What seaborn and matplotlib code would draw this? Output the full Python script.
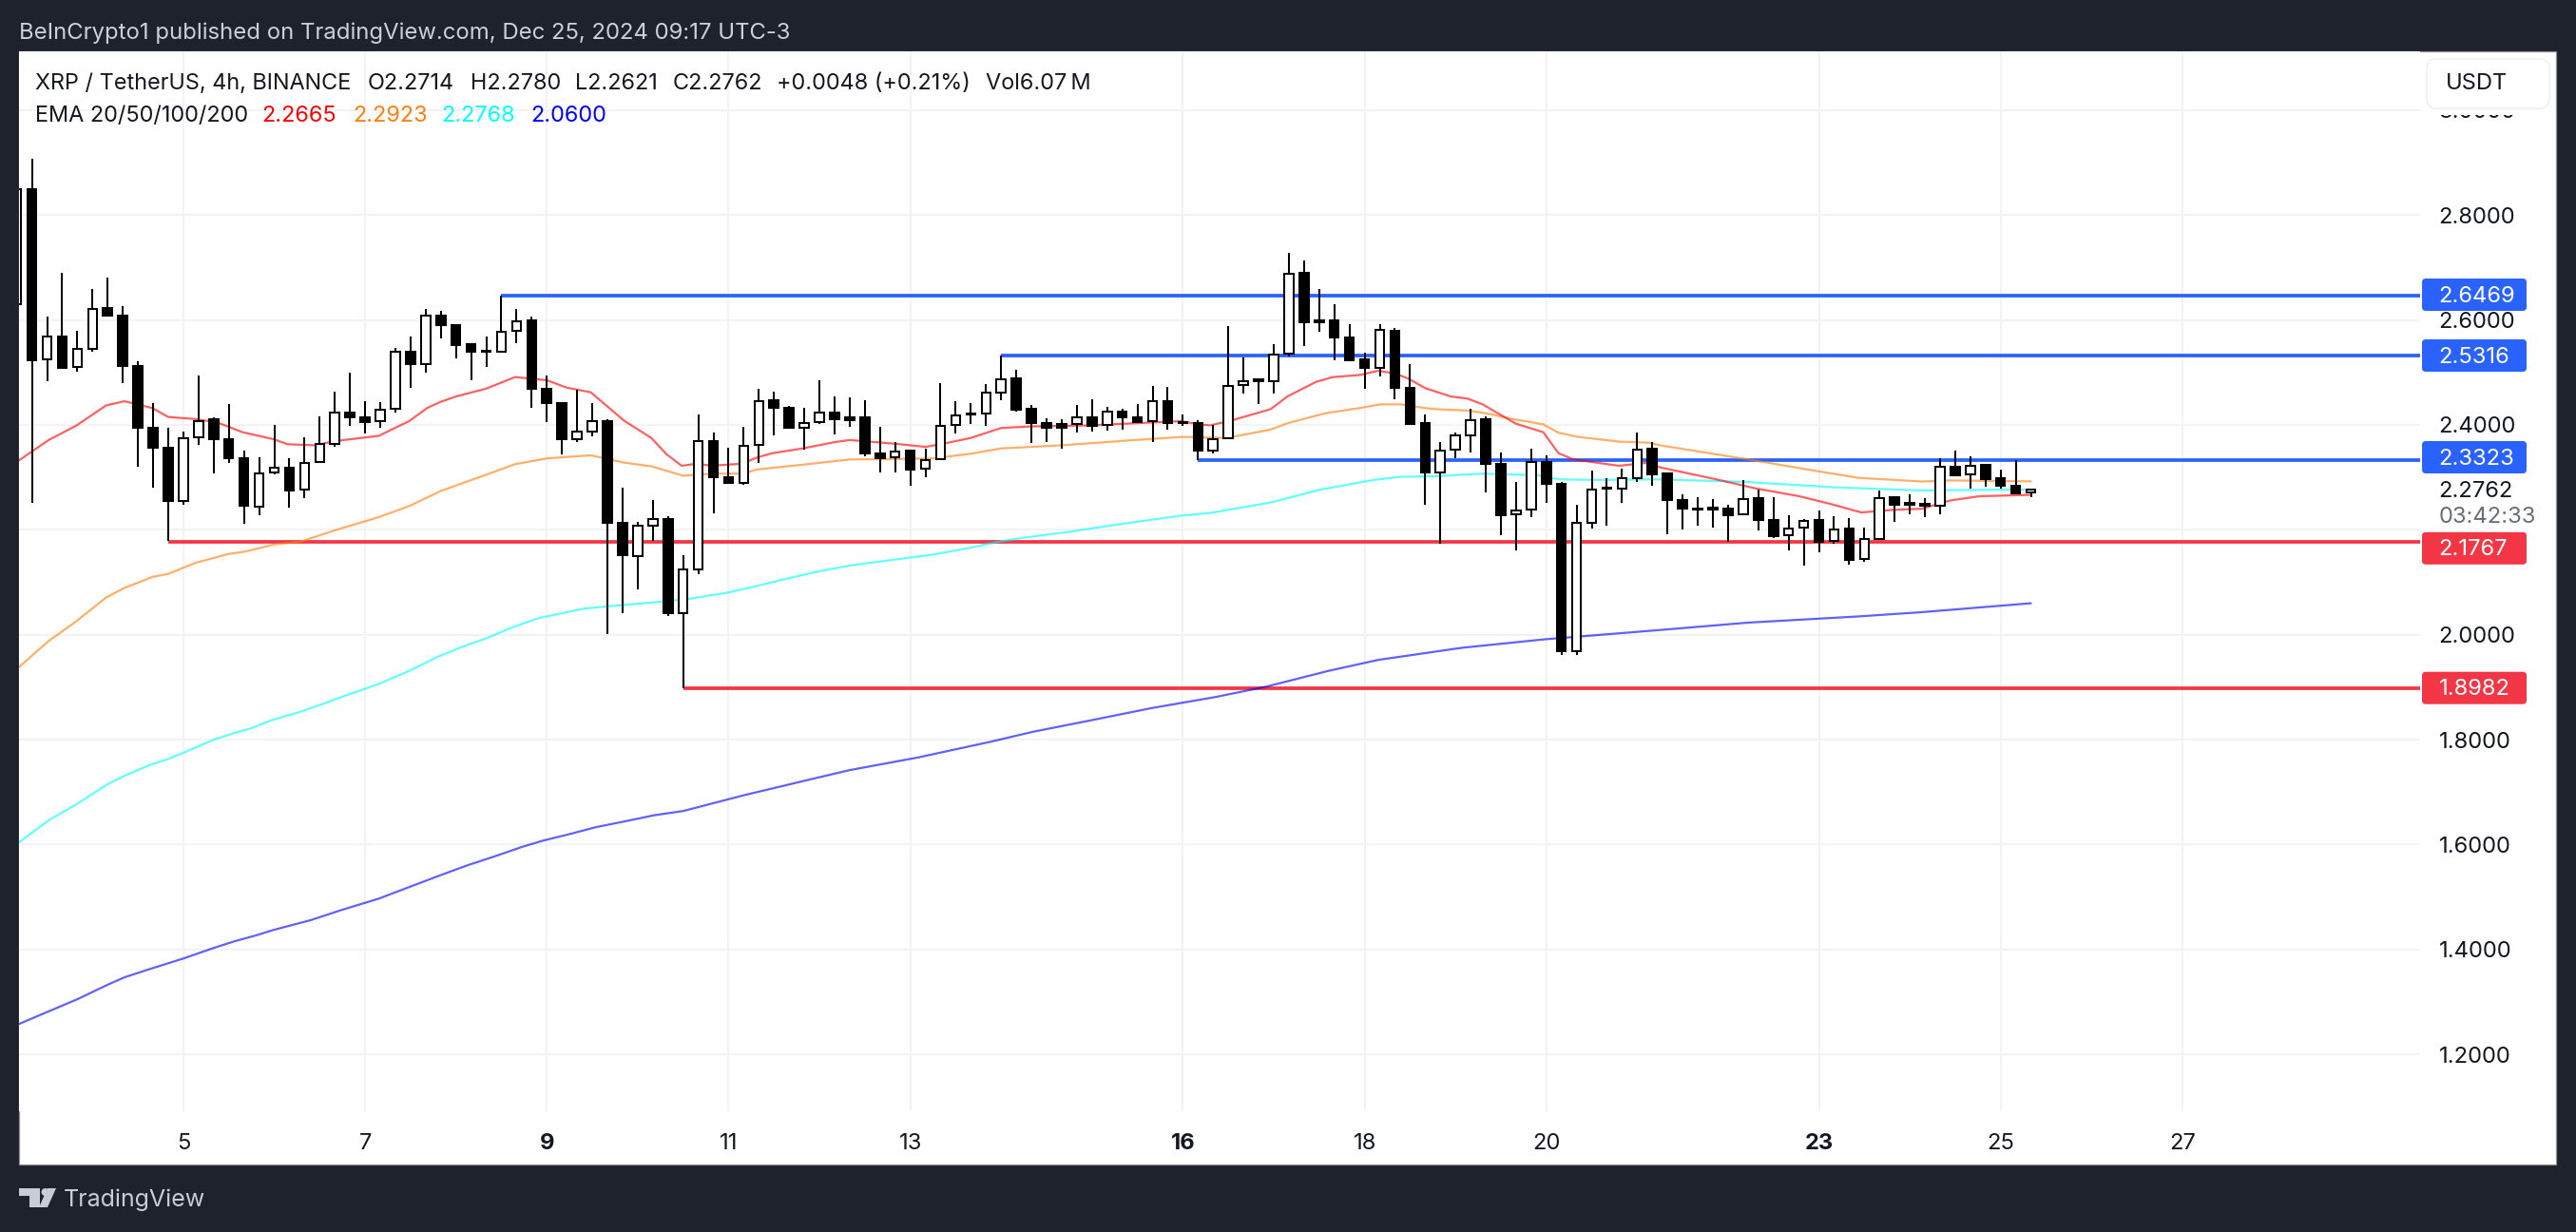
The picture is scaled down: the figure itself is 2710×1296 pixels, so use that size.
import matplotlib
matplotlib.use("Agg")
import matplotlib.pyplot as plt
import numpy as np
import seaborn as sns
from matplotlib.patches import FancyBboxPatch, Rectangle, Polygon, Circle
from matplotlib.transforms import IdentityTransform

# ---------- data ----------
highs = [2.90,2.907,2.607,2.689,2.580,2.658,2.680,2.627,2.522,2.442,
         2.394,2.388,2.494,2.415,2.439,2.351,2.339,2.400,2.336,2.376,
         2.416,2.463,2.500,2.446,2.444,2.547,2.569,2.620,2.617,2.592,
         2.555,2.568,2.647,2.621,2.606,2.494,2.442,2.466,2.441,2.411,
         2.280,2.215,2.256,2.226,2.151,2.419,2.386,2.357,2.397,2.469,
         2.463,2.436,2.432,2.485,2.454,2.453,2.447,2.396,2.368,2.353,
         2.354,2.479,2.445,2.442,2.477,2.532,2.505,2.437,2.412,2.410,
         2.437,2.448,2.435,2.431,2.439,2.474,2.472,2.419,2.409,2.399,
         2.588,2.528,2.489,2.553,2.727,2.714,2.658,2.629,2.591,2.537,
         2.591,2.584,2.515,2.419,2.368,2.386,2.431,2.417,2.347,2.291,
         2.354,2.342,2.291,2.247,2.313,2.298,2.316,2.385,2.367,2.308,
         2.267,2.263,2.258,2.247,2.295,2.276,2.263,2.228,2.220,2.236,
         2.225,2.223,2.204,2.275,2.264,2.267,2.260,2.337,2.351,2.340,
         2.323,2.314,2.333,2.278]
body_tops = [2.849,2.849,2.568,2.568,2.544,2.621,2.622,2.608,2.513,2.395,
             2.357,2.374,2.407,2.411,2.373,2.337,2.308,2.319,2.319,2.328,
             2.363,2.424,2.424,2.415,2.429,2.539,2.539,2.608,2.608,2.590,
             2.553,2.542,2.578,2.598,2.599,2.469,2.441,2.387,2.407,2.407,
             2.213,2.207,2.220,2.220,2.124,2.369,2.369,2.300,2.360,2.446,
             2.447,2.433,2.403,2.423,2.424,2.415,2.415,2.346,2.349,2.350,
             2.333,2.398,2.418,2.422,2.462,2.487,2.488,2.430,2.404,2.401,
             2.415,2.415,2.425,2.426,2.415,2.445,2.446,2.406,2.404,2.373,
             2.474,2.483,2.486,2.534,2.688,2.689,2.600,2.600,2.567,2.524,
             2.581,2.580,2.471,2.403,2.351,2.380,2.409,2.410,2.326,2.237,
             2.330,2.330,2.288,2.214,2.277,2.281,2.299,2.353,2.354,2.307,
             2.257,2.241,2.242,2.240,2.259,2.260,2.219,2.203,2.217,2.218,
             2.200,2.202,2.183,2.261,2.262,2.251,2.249,2.320,2.321,2.322,
             2.323,2.298,2.284,2.2762]
body_bottoms = [2.629,2.523,2.524,2.509,2.510,2.544,2.608,2.513,2.395,2.357,
                2.254,2.255,2.376,2.373,2.337,2.245,2.244,2.309,2.275,2.276,
                2.329,2.364,2.414,2.406,2.407,2.431,2.515,2.515,2.590,2.552,
                2.539,2.540,2.539,2.580,2.469,2.442,2.372,2.373,2.388,2.213,
                2.151,2.150,2.207,2.041,2.041,2.124,2.300,2.289,2.290,2.362,
                2.433,2.394,2.394,2.405,2.410,2.409,2.346,2.337,2.338,2.315,
                2.316,2.334,2.399,2.419,2.421,2.462,2.429,2.404,2.395,2.395,
                2.401,2.398,2.400,2.415,2.406,2.407,2.404,2.404,2.350,2.350,
                2.374,2.476,2.484,2.484,2.535,2.596,2.596,2.567,2.523,2.509,
                2.509,2.471,2.402,2.310,2.310,2.352,2.379,2.326,2.228,2.229,
                2.238,2.288,1.968,1.969,2.214,2.279,2.279,2.299,2.305,2.257,
                2.241,2.238,2.238,2.228,2.229,2.219,2.188,2.189,2.204,2.177,
                2.179,2.142,2.144,2.183,2.248,2.247,2.246,2.245,2.304,2.305,
                2.297,2.284,2.270,2.2714]
lows = [2.60,2.251,2.484,2.509,2.501,2.539,2.606,2.480,2.321,2.281,
        2.178,2.247,2.361,2.308,2.328,2.211,2.227,2.306,2.242,2.260,
        2.328,2.359,2.398,2.383,2.394,2.423,2.470,2.500,2.564,2.527,
        2.485,2.510,2.539,2.556,2.433,2.406,2.344,2.368,2.378,2.002,
        2.042,2.087,2.178,2.036,1.898,2.116,2.232,2.289,2.286,2.328,
        2.380,2.394,2.353,2.402,2.381,2.397,2.340,2.310,2.310,2.284,
        2.301,2.334,2.384,2.402,2.398,2.447,2.425,2.365,2.367,2.355,
        2.386,2.388,2.389,2.391,2.406,2.367,2.391,2.398,2.332,2.346,
        2.373,2.460,2.440,2.460,2.531,2.550,2.578,2.523,2.521,2.469,
        2.492,2.448,2.402,2.248,2.174,2.336,2.347,2.272,2.190,2.161,
        2.224,2.252,1.961,1.962,2.203,2.208,2.251,2.291,2.284,2.192,
        2.201,2.208,2.205,2.177,2.228,2.199,2.184,2.161,2.132,2.157,
        2.174,2.133,2.139,2.183,2.215,2.229,2.224,2.229,2.304,2.278,
        2.282,2.278,2.267,2.2621]
directions = ("UDUDUUDDDD" "DUUDDDUUDU" "UUDDUUDUDD" "DDUUDDDUUD" "DUUDUUDDUU"
              "DDUUDDDDUD" "UUUDUUDDDD" "UDUDDUDDDU" "UUDUUDDDDD" "UDDDUUUDDU"
              "UDDUUDUUDD" "DDDDUDDUUD" "UDUUDDDUDU" "DDDU")
first_bar = -1

ema20_x = [-0.87,1.1,2.9,4.9,6.1,7.95,9,10.8,12.3,13.9,15.9,16.9,18.7,20,22.9,24.9,26.1,27,28,30,31.9,34,35.3,36.9,
           39.1,40.9,41.9,42.9,43.9,44.9,46.9,47.9,48.9,50.9,53,54,57,59,60,62,64,66,70,72.8,75.9,77,77.8,79.3,
           81.8,82.9,84.8,85.9,87.7,88.9,90,90.9,92,93.7,94.8,95.8,98,99.8,100.8,101.8,104.8,106.8,107.5,111.4,
           113.8,116.7,118.8,120.8,122.9,124.8,126.7,128.6,132]
ema20_y = [2.332,2.371,2.398,2.437,2.445,2.432,2.415,2.411,2.404,2.386,2.373,2.363,2.361,2.369,2.379,2.407,2.432,2.444,
           2.454,2.469,2.491,2.485,2.471,2.462,2.408,2.375,2.344,2.322,2.326,2.322,2.326,2.338,2.346,2.355,2.367,
           2.371,2.364,2.358,2.363,2.375,2.394,2.397,2.399,2.403,2.407,2.401,2.399,2.409,2.430,2.454,2.482,2.491,
           2.495,2.503,2.498,2.488,2.470,2.454,2.450,2.439,2.402,2.386,2.346,2.334,2.322,2.328,2.319,2.295,2.279,
           2.264,2.249,2.233,2.238,2.240,2.256,2.264,2.2665]
ema50_x = [-0.87,1.1,2.9,4.9,6.1,7.95,9,10.8,13,14,16,17.8,20,22.9,24.9,27,30,31.9,34,36.9,39.1,40.9,43,44.9,46.9,
           47.9,50.9,54,57.5,59.5,62,64,68,72.8,76,78.9,81.8,82.9,85.4,87.9,89,90.4,91.5,92.6,94.9,96.2,97.6,99.8,
           100.8,102.1,104.8,106.8,107.5,111.4,114,117,120.6,124.8,126.7,132]
ema50_y = [1.938,1.988,2.025,2.071,2.089,2.110,2.116,2.137,2.154,2.158,2.172,2.178,2.199,2.224,2.245,2.274,2.305,2.325,
           2.336,2.342,2.328,2.321,2.303,2.307,2.307,2.315,2.324,2.334,2.335,2.336,2.345,2.355,2.361,2.371,2.377,
           2.375,2.391,2.403,2.422,2.433,2.439,2.439,2.434,2.430,2.427,2.421,2.412,2.401,2.385,2.377,2.368,2.366,
           2.361,2.343,2.331,2.316,2.299,2.292,2.294,2.2923]
ema100_x = [-0.87,1.09,3.05,5,6.1,7.8,8.9,10,12,13.4,14.5,15.9,17.6,19.3,20.4,22.9,24.9,26.8,28.5,29.9,31.9,33.5,36.5,
            41.9,43.3,45.9,47.3,49,51.5,54,58,59.6,62.2,63.8,65.5,68.2,72.4,75.9,77.8,81.8,85,88.6,90.4,92.6,95.8,
            99.4,100.9,103.4,107.5,113.3,119,124.8,132]
ema100_y = [1.604,1.646,1.679,1.715,1.731,1.752,1.762,1.775,1.800,1.813,1.822,1.838,1.852,1.869,1.881,1.906,1.931,1.958,
            1.978,1.992,2.016,2.032,2.050,2.064,2.068,2.080,2.089,2.101,2.118,2.132,2.147,2.153,2.167,2.177,2.185,
            2.195,2.213,2.227,2.232,2.252,2.276,2.295,2.301,2.302,2.307,2.304,2.296,2.295,2.296,2.291,2.281,2.275,2.2768]
ema200_x = [-0.87,1.09,3.05,5,6.1,7.8,10,12,13.4,14.8,15.9,18.4,20.4,22.9,24.9,27.1,28.8,30.7,32.4,33.8,35.5,37.2,39.1,
            41.1,43,47,51.5,54,58.5,63.3,66.1,70.3,73.9,78.1,81.5,85.6,88.9,94.4,99.8,107.5,113.3,120.7,124.8,132]
ema200_y = [1.258,1.282,1.306,1.333,1.347,1.363,1.383,1.403,1.416,1.427,1.437,1.456,1.475,1.497,1.519,1.543,1.561,1.579,
            1.596,1.608,1.620,1.633,1.644,1.656,1.664,1.694,1.725,1.742,1.766,1.796,1.815,1.839,1.860,1.881,1.901,
            1.931,1.952,1.975,1.991,2.009,2.023,2.035,2.043,2.0600]

resistance_levels = [2.6469, 2.5316, 2.3323]
resistance_starts = [31, 64, 77]
support_levels = [2.1767, 1.8982]
support_starts = [9, 43]

price_ticks = [1.2, 1.4, 1.6, 1.8, 2.0, 2.2, 2.4, 2.6, 2.8, 3.0]
price_labels = ["1.2000", "1.4000", "1.6000", "1.8000", "2.0000", "", "2.4000", "2.6000", "2.8000", "3.0000"]
date_ticks = [10, 22, 34, 46, 58, 76, 88, 100, 118, 130, 142]
date_labels = ["5", "7", "9", "11", "13", "16", "18", "20", "23", "25", "27"]
bold_dates = ["9", "16", "23"]

# ---------- figure ----------
W, H = 2710, 1296
BG = "#1E222D"
INK = "#131722"
BLUE = "#2962FF"
RED = "#F23645"
FONT = ["Inter", "DejaVu Sans"]
sns.set_theme(style="white")
plt.rcParams["font.family"] = FONT
fig = plt.figure(figsize=(W / 100, H / 100), dpi=100, facecolor=BG)
PX = IdentityTransform()
XLIM = (-0.854, 157.7)
YLIM = (1.0918, 3.1118)


def fy(y):
    return H - y


fig.add_artist(Rectangle((20, fy(1225)), 2669, 1171, transform=PX, facecolor="white",
                         edgecolor="#8C8F98", linewidth=0.9, zorder=-1))
ax = fig.add_axes([20 / W, 1 - 1169 / H, (2546 - 20) / W, (1169 - 54) / H], zorder=0)
ax.set_facecolor("white")
for s in ax.spines.values():
    s.set_visible(False)

ax.set_yticks(price_ticks)
ax.set_yticklabels(price_labels)
ax.yaxis.tick_right()
ax.set_xticks(date_ticks)
ax.set_xticklabels(date_labels)
ax.tick_params(axis="y", length=0, pad=14.2, labelsize=17.1, labelcolor=INK)
ax.tick_params(axis="x", length=0, pad=16.5, labelsize=17.1, labelcolor=INK)
for lab in ax.get_xticklabels():
    if lab.get_text() in bold_dates:
        lab.set_fontweight("bold")
ax.grid(True, color="#F2F3F5", linewidth=1.5, zorder=0)
ax.set_axisbelow(True)

# levels
ax.hlines(resistance_levels, resistance_starts, 160, color=BLUE, linewidth=2.7, zorder=2)
ax.hlines(support_levels, support_starts, 160, color=RED, linewidth=2.7, zorder=2)

# EMAs
for xs, ys, col in [(ema200_x, ema200_y, "#0000FF"), (ema100_x, ema100_y, "#00FFFF"),
                    (ema50_x, ema50_y, "#FF7F0E"), (ema20_x, ema20_y, "#FF0000")]:
    sns.lineplot(x=xs, y=ys, ax=ax, color=col, alpha=0.62, linewidth=1.6,
                 estimator=None, sort=False, zorder=2.5, legend=False)

# candles
bars = np.arange(first_bar, first_bar + len(highs))
tops = np.array(body_tops)
bottoms = np.array(body_bottoms)
ax.vlines(bars, lows, highs, color="black", linewidth=1.45, zorder=3)
face = ["white" if d == "U" else "black" for d in directions]
ax.bar(bars, tops - bottoms, bottom=bottoms, width=0.6, color=face, edgecolor="black",
       linewidth=1.45, zorder=4)
ax.set_xlim(*XLIM)
ax.set_ylim(*YLIM)


def text(x, y, s, color=INK, size=17.1, **kw):
    kw.setdefault("va", "center")
    kw.setdefault("ha", "left")
    fig.text(x / W, 1 - y / H, s, color=color, fontsize=size, zorder=6, **kw)


# header
text(20.5, 34.5, "BeInCrypto1 published on TradingView.com, Dec 25, 2024 09:17 UTC-3", color="#CDD0D9", size=17.2)
for x, s in [(36.7, "XRP / TetherUS, 4h, BINANCE"), (386.5, "O2.2714"), (495, "H2.2780"), (604.6, "L2.2621"),
             (708, "C2.2762"), (817, "+0.0048 (+0.21%)"), (1037, "Vol6.07\u2009M")]:
    text(x, 88, s, size=16.9)
text(36.7, 122, "EMA 20/50/100/200", size=16.9)
for x, s, c in [(275.5, "2.2665", "#FF0000"), (371, "2.2923", "#FF7F0E"), (464.5, "2.2768", "#00FFFF"),
                (558.7, "2.0600", "#0000FF")]:
    text(x, 122, s, color=c, size=16.9)

# USDT button and the white strip that hides most of the top price label
fig.add_artist(Rectangle((2553, fy(121)), 129, 12, transform=PX, facecolor="white", edgecolor="none", zorder=4.9))
fig.add_artist(FancyBboxPatch((2557, fy(110)), 121, 44, boxstyle="round,pad=4,rounding_size=10", transform=PX,
                              facecolor="white", edgecolor="#ECEDF1", linewidth=0.9, zorder=5))
text(2572.5, 88, "USDT")

# price tags
for y, s, c in [(310, "2.6469", BLUE), (374, "2.5316", BLUE), (481, "2.3323", BLUE),
                (576.8, "2.1767", RED), (723.7, "1.8982", RED)]:
    fig.add_artist(FancyBboxPatch((2551, fy(y + 14)), 104, 28, boxstyle="round,pad=3,rounding_size=4", transform=PX,
                                  facecolor=c, edgecolor="none", zorder=5))
    text(2565.7, y + 1.5, s, color="white")
text(2565.7, 516.5, "2.2762")
text(2565.7, 544, "03:42:33", color="#6A6D78")

# footer logo and brand
LOGO = "#C9CCD6"
fig.add_artist(Polygon([(20, fy(1250)), (42, fy(1250)), (42, fy(1270)), (31, fy(1270)), (31, fy(1258)), (20, fy(1258))],
                       closed=True, transform=PX, facecolor=LOGO, edgecolor="none", zorder=5))
fig.add_artist(Circle((41 + 6.5, fy(1254)), 4, transform=PX, facecolor=LOGO, edgecolor="none", zorder=5))
fig.add_artist(Polygon([(50, fy(1250)), (59, fy(1250)), (50, fy(1270)), (41, fy(1270))],
                       closed=True, transform=PX, facecolor=LOGO, edgecolor="none", zorder=5))
text(67, 1262, "TradingView", color=LOGO, size=18)

fig.savefig("out.png", dpi=100, facecolor=BG)
